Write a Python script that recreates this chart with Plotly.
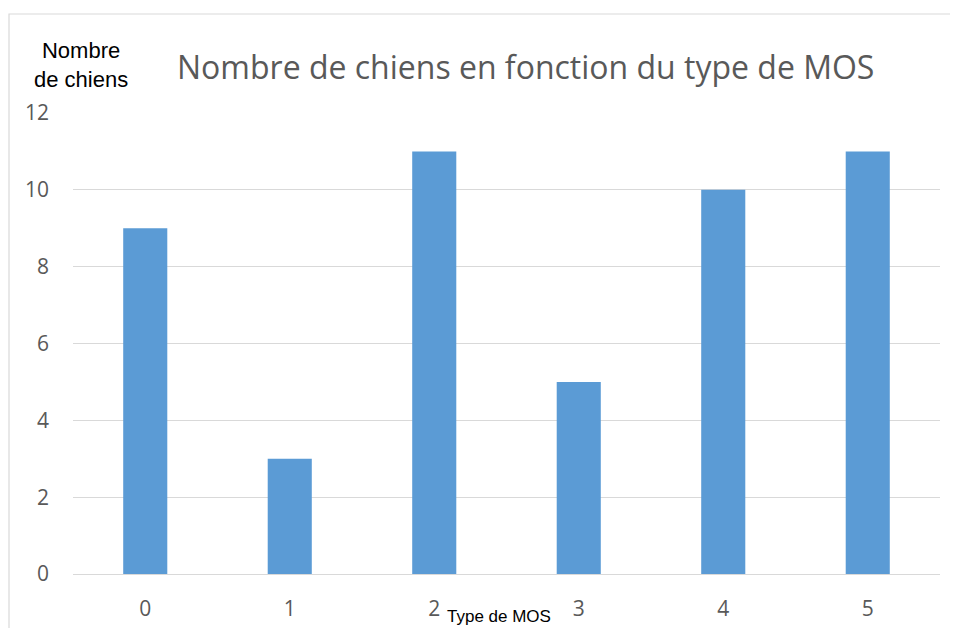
import plotly.graph_objects as go

categories = ["0", "1", "2", "3", "4", "5"]
values = [9, 3, 11, 5, 10, 11]
y_ticks = [0, 2, 4, 6, 8, 10, 12]

# page body adds an 8px offset; figure is sized to the window
OFF = 8
W, H = 950, 620
L, R, T, B = 65, 18, 105, 54
pw, ph = W - L - R, H - T - B

def px_x(x):
    return (x - OFF - L) / pw

def px_y(y):
    return (H - B - (y - OFF)) / ph

fig = go.Figure(go.Bar(
    x=categories, y=values, marker=dict(color="#5B9BD5", line=dict(width=0)),
))

fig.update_layout(
    width=W, height=H,
    margin=dict(l=L, r=R, t=T, b=B, autoexpand=False),
    paper_bgcolor="white", plot_bgcolor="white",
    bargap=0.695,
    showlegend=False,
    font=dict(family="Open Sans, sans-serif", color="#595959"),
    xaxis=dict(type="category", showgrid=False, showline=False, ticks="", automargin=False,
               tickfont=dict(size=21, color="#595959"), ticklabelstandoff=20),
    yaxis=dict(range=[0, 12], tickvals=y_ticks, showgrid=True, gridcolor="#D9D9D9",
               gridwidth=1, zeroline=True, zerolinecolor="#D9D9D9", zerolinewidth=1,
               automargin=False,
               showline=False, ticks="", tickfont=dict(size=21, color="#595959"),
               ticklabelstandoff=23),
    shapes=[dict(type="rect", xref="paper", yref="paper",
                 x0=px_x(9), x1=px_x(975), y0=px_y(650), y1=px_y(14),
                 line=dict(color="#D9D9D9", width=1.2), fillcolor="rgba(0,0,0,0)",
                 layer="below")],
    annotations=[
        dict(text="Nombre de chiens en fonction du type de MOS", xref="paper", yref="paper",
             x=px_x(525), y=px_y(66), showarrow=False, xanchor="center", yanchor="middle",
             font=dict(family="Open Sans, sans-serif", size=32, color="#595959")),
        dict(text="Nombre<br>de chiens", xref="paper", yref="paper",
             x=px_x(81), y=px_y(65), showarrow=False, xanchor="center", yanchor="middle",
             align="center",
             font=dict(family="Liberation Sans, Arial, sans-serif", size=22, color="#000000")),
        dict(text="Type de MOS", xref="paper", yref="paper",
             x=px_x(499), y=px_y(616), showarrow=False, xanchor="center", yanchor="middle",
             font=dict(family="Liberation Sans, Arial, sans-serif", size=17, color="#000000")),
    ],
)

fig.write_html("out.html")
